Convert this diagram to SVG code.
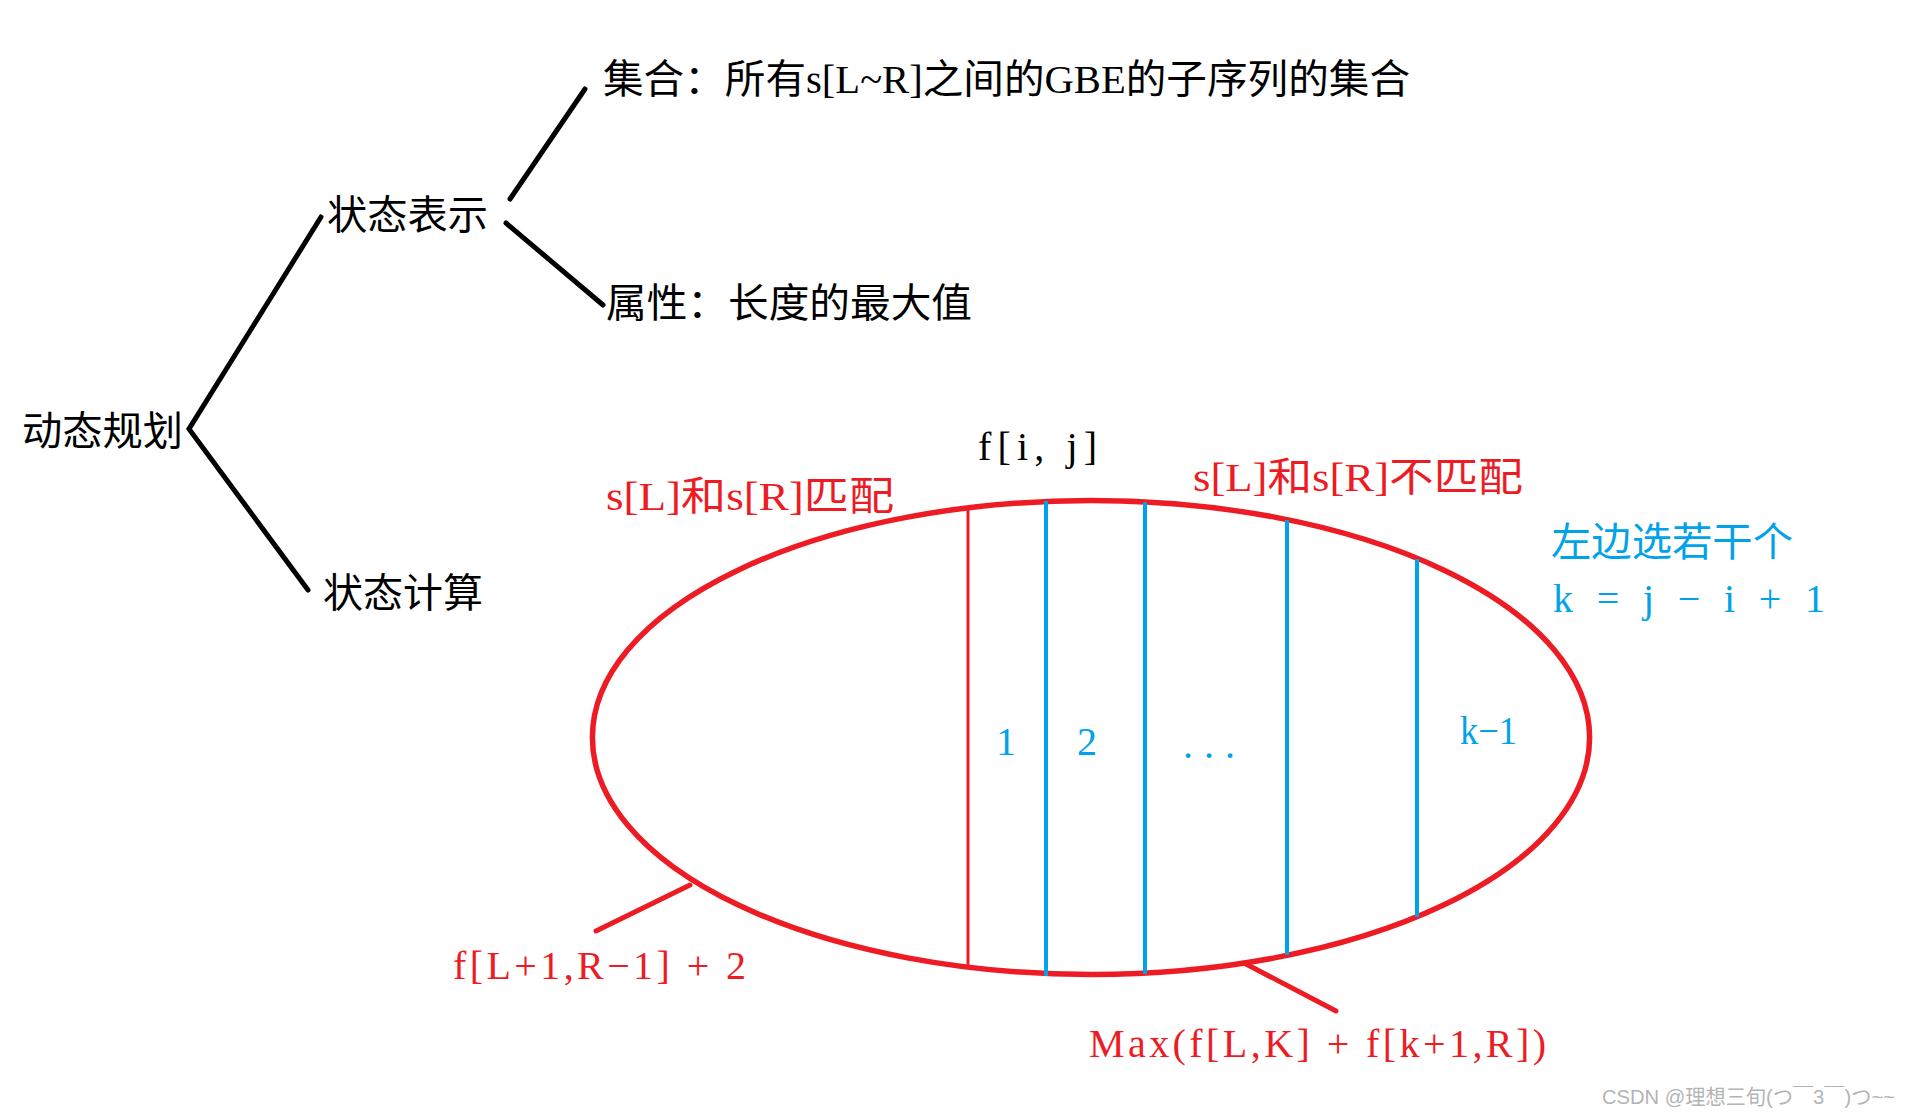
<svg xmlns="http://www.w3.org/2000/svg" width="1908" height="1115" viewBox="0 0 1908 1115">
<style>
text { font-family: "Liberation Serif", "Noto Sans CJK SC", serif; font-size: 40px; }
.k { fill: #000; }
.r { fill: #ed1c24; }
.b { fill: #00a2e8; }
.bl { stroke: #000; stroke-width: 5; stroke-linecap: round; fill: none; }
.rl { stroke: #ed1c24; stroke-width: 5; stroke-linecap: round; fill: none; }
.bv { stroke: #00a2e8; stroke-width: 4; }
.wm { font-family: "Liberation Sans", "Noto Sans CJK SC", sans-serif; font-size: 21px; fill: #b4b4b4; }
</style>
<rect width="1908" height="1115" fill="#fff"/>
<g id="connectors">
<polyline class="bl" points="321,217 189,429 308,590"/>
<line class="bl" x1="510" y1="199" x2="585" y2="89"/>
<line class="bl" x1="506" y1="223" x2="603" y2="305"/>
<line class="rl" x1="596" y1="931" x2="690" y2="885"/>
<line class="rl" x1="1246" y1="964" x2="1336" y2="1011"/>
</g>
<g id="root"><text class="k" x="22" y="445" textLength="161" lengthAdjust="spacingAndGlyphs">动态规划</text></g>
<g id="state-repr"><text class="k" x="327" y="229" textLength="161" lengthAdjust="spacingAndGlyphs">状态表示</text></g>
<g id="state-calc"><text class="k" x="323" y="607" textLength="160" lengthAdjust="spacingAndGlyphs">状态计算</text></g>
<g id="set"><text class="k" x="603" y="93" textLength="807" lengthAdjust="spacingAndGlyphs">集合：所有s[L~R]之间的GBE的子序列的集合</text></g>
<g id="attr"><text class="k" x="606" y="317" textLength="366" lengthAdjust="spacingAndGlyphs">属性：长度的最大值</text></g>
<g id="ellipse-set">
<ellipse cx="1091" cy="737.5" rx="498.6" ry="237" fill="none" stroke="#ed1c24" stroke-width="5.5"/>
<line x1="968" y1="508" x2="968" y2="968" stroke="#ed1c24" stroke-width="3"/>
<line class="bv" x1="1046" y1="501" x2="1046" y2="976"/>
<line class="bv" x1="1145" y1="502" x2="1145" y2="974"/>
<line class="bv" x1="1287" y1="520" x2="1287" y2="955"/>
<line class="bv" x1="1417" y1="559" x2="1417" y2="917"/>
<text class="k" x="978" y="460" textLength="119" lengthAdjust="spacing">f[i, j]</text>
<text class="b" x="1006" y="755" text-anchor="middle" font-size="44">1</text>
<text class="b" x="1087" y="755" text-anchor="middle" font-size="44">2</text>
<text class="b" x="1183" y="758" textLength="52" lengthAdjust="spacing">...</text>
<text class="b" x="1460" y="744" textLength="57" lengthAdjust="spacingAndGlyphs" font-size="42">k−1</text>
</g>
<g id="match"><text class="r" x="606" y="510" textLength="288" lengthAdjust="spacingAndGlyphs">s[L]和s[R]匹配</text></g>
<g id="nomatch"><text class="r" x="1193" y="491" textLength="330" lengthAdjust="spacingAndGlyphs">s[L]和s[R]不匹配</text></g>
<g id="left-choose">
<text class="b" x="1551" y="556" textLength="242" lengthAdjust="spacingAndGlyphs">左边选若干个</text>
<text class="b" x="1553" y="612" textLength="272" lengthAdjust="spacing">k = j − i + 1</text>
</g>
<g id="formula-match"><text class="r" x="453" y="979" textLength="293" lengthAdjust="spacing">f[L+1,R−1] + 2</text></g>
<g id="formula-nomatch"><text class="r" x="1089" y="1057" textLength="457" lengthAdjust="spacing">Max(f[L,K] + f[k+1,R])</text></g>
<text class="wm" x="1602" y="1104" textLength="293" lengthAdjust="spacingAndGlyphs">CSDN @理想三旬(つ￣3￣)つ~~</text>
</svg>
